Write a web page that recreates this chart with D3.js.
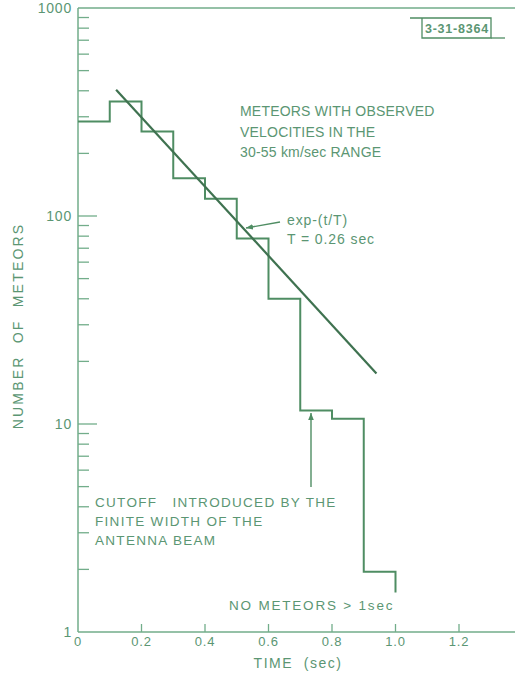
<!DOCTYPE html>
<html lang="en">
<head>
  <meta charset="UTF-8">
  <title>Meteor duration histogram</title>
  <script src="https://d3js.org/d3.v7.min.js"></script>
  <style>
    body { margin: 0; background: #fff; }
    text { font-family: "Liberation Sans", Arial, sans-serif; fill: #5b9673; white-space: pre; }
  </style>
</head>
<body>
  <svg width="515" height="679"></svg>
  <script>
    // histogram bins (sec) and counts
    const binEdges = [0, 0.1, 0.2, 0.3, 0.4, 0.5, 0.6, 0.7, 0.8, 0.9, 1.0];
    const counts = [285, 355, 255, 152, 121, 78, 40, 11.6, 10.6, 1.95];
    const tailEnd = 1.55;           // vertical drop at t = 1.0 stops here
    // fitted exp-(t/T) line, endpoints
    const fitT = [0.12, 0.94];
    const fitN = [405, 17.5];
    const xTicks = [0, 0.2, 0.4, 0.6, 0.8, 1.0, 1.2];
    const xTickLabels = ["0", "0.2", "0.4", "0.6", "0.8", "1.0", "1.2"];
    const yMajor = [1, 10, 100, 1000];

    const svg = d3.select("svg");
    const x = d3.scaleLinear().domain([0, 1]).range([78, 395.5]);
    const y = d3.scaleLog().domain([1, 1000]).range([632, 8]);
    const green = "#72ad8a";
    const ink = "#4f8d63";

    // frame: left axis, bottom axis, top line
    svg.append("line").attr("x1", 78).attr("x2", 78).attr("y1", y(1000)).attr("y2", y(1))
      .attr("stroke", green).attr("stroke-width", 1.5);
    svg.append("line").attr("x1", 78).attr("x2", 515).attr("y1", y(1)).attr("y2", y(1))
      .attr("stroke", green).attr("stroke-width", 1.5);
    svg.append("line").attr("x1", 78).attr("x2", 515).attr("y1", y(1000)).attr("y2", y(1000))
      .attr("stroke", green).attr("stroke-width", 1.5);

    // y ticks (inside)
    const minor = [];
    [1, 10, 100].forEach(d => { for (let k = 2; k <= 9; k++) minor.push(d * k); });
    svg.append("g").selectAll("line").data(minor).join("line")
      .attr("x1", 78).attr("x2", 89)
      .attr("y1", d => y(d)).attr("y2", d => y(d))
      .attr("stroke", green).attr("stroke-width", 1.3);
    svg.append("g").selectAll("line").data([10, 100]).join("line")
      .attr("x1", 78).attr("x2", 97)
      .attr("y1", d => y(d)).attr("y2", d => y(d))
      .attr("stroke", green).attr("stroke-width", 1.3);
    svg.append("g").selectAll("text").data(yMajor).join("text")
      .attr("x", 72).attr("y", d => y(d) + 5)
      .attr("text-anchor", "end").attr("font-size", 14).attr("letter-spacing", 0.8)
      .attr("fill", "#8dbb9e")
      .text(d => d);

    // x ticks (inside)
    svg.append("g").selectAll("line").data(xTicks.slice(1)).join("line")
      .attr("x1", d => x(d)).attr("x2", d => x(d))
      .attr("y1", y(1)).attr("y2", y(1) - 8)
      .attr("stroke", green).attr("stroke-width", 1.3);
    svg.append("g").selectAll("text").data(xTicks).join("text")
      .attr("x", d => x(d)).attr("y", 646)
      .attr("text-anchor", "middle").attr("font-size", 13)
      .attr("fill", "#8dbb9e").attr("letter-spacing", 0.8)
      .text((d, i) => xTickLabels[i]);

    // axis titles
    svg.append("text").attr("x", 298).attr("y", 668)
      .attr("text-anchor", "middle").attr("font-size", 14).attr("letter-spacing", 1.5)
      .text("TIME  (sec)");
    svg.append("text").attr("transform", "translate(23,326) rotate(-90)")
      .attr("text-anchor", "middle").attr("font-size", 14).attr("letter-spacing", 2.2)
      .text("NUMBER  OF  METEORS");

    // step histogram
    const steps = [];
    counts.forEach((c, i) => {
      steps.push([binEdges[i], c]);
      steps.push([binEdges[i + 1], c]);
    });
    steps.push([binEdges[binEdges.length - 1], tailEnd]);
    svg.append("path")
      .attr("d", d3.line().x(d => x(d[0])).y(d => y(d[1]))(steps))
      .attr("fill", "none").attr("stroke", ink).attr("stroke-width", 2);

    // fit line
    svg.append("path")
      .attr("d", d3.line().x(d => x(d[0])).y(d => y(d[1]))(fitT.map((t, i) => [t, fitN[i]])))
      .attr("fill", "none").attr("stroke", "#3f7250").attr("stroke-width", 2.2);

    // arrowheads
    const defs = svg.append("defs");
    defs.append("marker").attr("id", "ah").attr("viewBox", "0 0 10 10")
      .attr("refX", 10).attr("refY", 5).attr("markerWidth", 7).attr("markerHeight", 7)
      .attr("orient", "auto").attr("markerUnits", "userSpaceOnUse")
      .append("path").attr("d", "M0,1 L10,5 L0,9 Z").attr("fill", ink);

    svg.append("line").attr("x1", 280).attr("y1", 222).attr("x2", 246).attr("y2", 228)
      .attr("stroke", ink).attr("stroke-width", 1.4).attr("marker-end", "url(#ah)");
    svg.append("line").attr("x1", 311).attr("y1", 487).attr("x2", 311).attr("y2", 413)
      .attr("stroke", ink).attr("stroke-width", 1.4).attr("marker-end", "url(#ah)");

    // annotations
    const note = (lines, x0, y0, dy, size, ls) => {
      const t = svg.append("text").attr("x", x0).attr("y", y0)
        .attr("font-size", size).attr("letter-spacing", ls);
      lines.forEach((s, i) => t.append("tspan").attr("x", x0).attr("y", y0 + i * dy).text(s));
    };
    note(["METEORS WITH OBSERVED", "VELOCITIES IN THE", "30-55 km/sec RANGE"], 240, 116, 20.5, 14, 0.2);
    note(["exp-(t/T)", "T = 0.26 sec"], 287, 225, 19, 14, 0.9);
    note(["CUTOFF   INTRODUCED BY THE", "FINITE WIDTH OF THE", "ANTENNA BEAM"], 95, 507, 19, 13.5, 1.3);
    note(["NO METEORS > 1sec"], 229, 610, 0, 13.5, 1.8);

    // drawing number box
    svg.append("path").attr("d", "M410,18 L491,18 L491,38 L422,38 L422,18")
      .attr("fill", "none").attr("stroke", ink).attr("stroke-width", 1.3);
    svg.append("line").attr("x1", 491).attr("x2", 505).attr("y1", 38).attr("y2", 38)
      .attr("stroke", ink).attr("stroke-width", 1.3);
    svg.append("text").attr("x", 457).attr("y", 33).attr("text-anchor", "middle")
      .attr("font-size", 12.5).attr("font-weight", "bold").attr("letter-spacing", 0.8)
      .attr("fill", ink).text("3-31-8364");
  </script>
</body>
</html>
